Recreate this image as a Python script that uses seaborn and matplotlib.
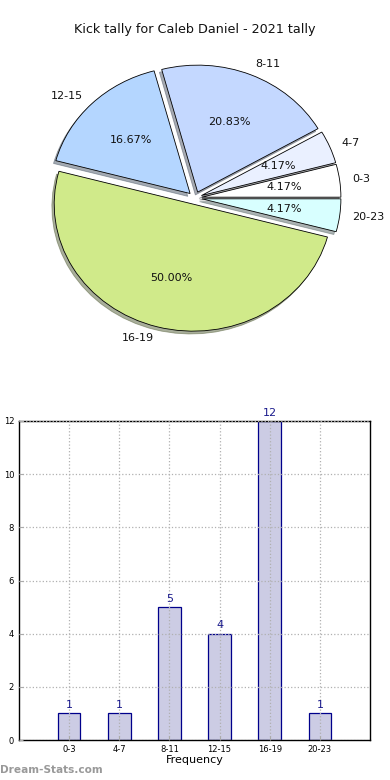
import matplotlib
matplotlib.use("Agg")
import matplotlib.pyplot as plt
import seaborn as sns
import numpy as np

title = "Kick tally for Caleb Daniel - 2021 tally"
categories = ["0-3", "4-7", "8-11", "12-15", "16-19", "20-23"]
counts = [1, 1, 5, 4, 12, 1]
pie_colors = ["#ffffff", "#eaf0ff", "#c4d8ff", "#b4d6ff", "#d0ea8a", "#d8ffff"]
bar_fill = "#ccccE4"
bar_edge = "#00008b"
label_color = "#1a1a8c"

W, H = 390, 780
fig = plt.figure(figsize=(W / 100, H / 100), dpi=100)

# ---- pie ----
cx, cy = 195, 198
sx, sy = 139, 127
top_px, bot_px = 50, 360
axp = fig.add_axes([0, 1 - bot_px / H, 1, (bot_px - top_px) / H])
axp.pie(counts, labels=categories, colors=pie_colors, explode=[0.05] * len(counts),
        autopct="%.2f%%", shadow={"ox": -0.012, "oy": -0.016, "shade": 0.6}, startangle=0,
        labeldistance=1.09,
        wedgeprops=dict(edgecolor="black", linewidth=0.6),
        textprops=dict(fontsize=8, color="#111111"))
axp.set_aspect("auto")
axp.set_xlim((0 - cx) / sx, (W - cx) / sx)
axp.set_ylim((cy - bot_px) / sy, (cy - top_px) / sy)
axp.axis("off")
fig.text(0.5, 1 - 30 / H, title, ha="center", va="center", fontsize=9.2, color="#111111")

# ---- bar ----
left, right, top, bottom = 19, 370, 421, 740
axb = fig.add_axes([left / W, 1 - bottom / H, (right - left) / W, (bottom - top) / H])
sns.barplot(x=categories, y=counts, color=bar_fill, edgecolor=bar_edge, linewidth=0.9,
            saturation=1, width=0.45, ax=axb)
axb.set_xlim(-1, len(categories))
axb.set_ylim(0, 12)
axb.set_yticks(range(0, 13, 2))
axb.set_axisbelow(False)
axb.grid(True, linestyle=":", color="#b0b0b0", linewidth=0.9)
for s in axb.spines.values():
    s.set_color("black")
    s.set_linewidth(1)
axb.tick_params(axis="both", labelsize=6, direction="in", length=3, color="#aaaaaa")
for i, v in enumerate(counts):
    axb.text(i, v + 0.12, str(v), ha="center", va="bottom", fontsize=8, color=label_color)
axb.set_xlabel("Frequency", fontsize=8, labelpad=1)
axb.set_ylabel("Stat Instances", fontsize=8, labelpad=8)

fig.text(0, 1 - 770 / H, "Dream-Stats.com", ha="left", va="center", fontsize=7.6,
         color="#999999", fontweight="bold")

fig.savefig("out.png", dpi=100)
